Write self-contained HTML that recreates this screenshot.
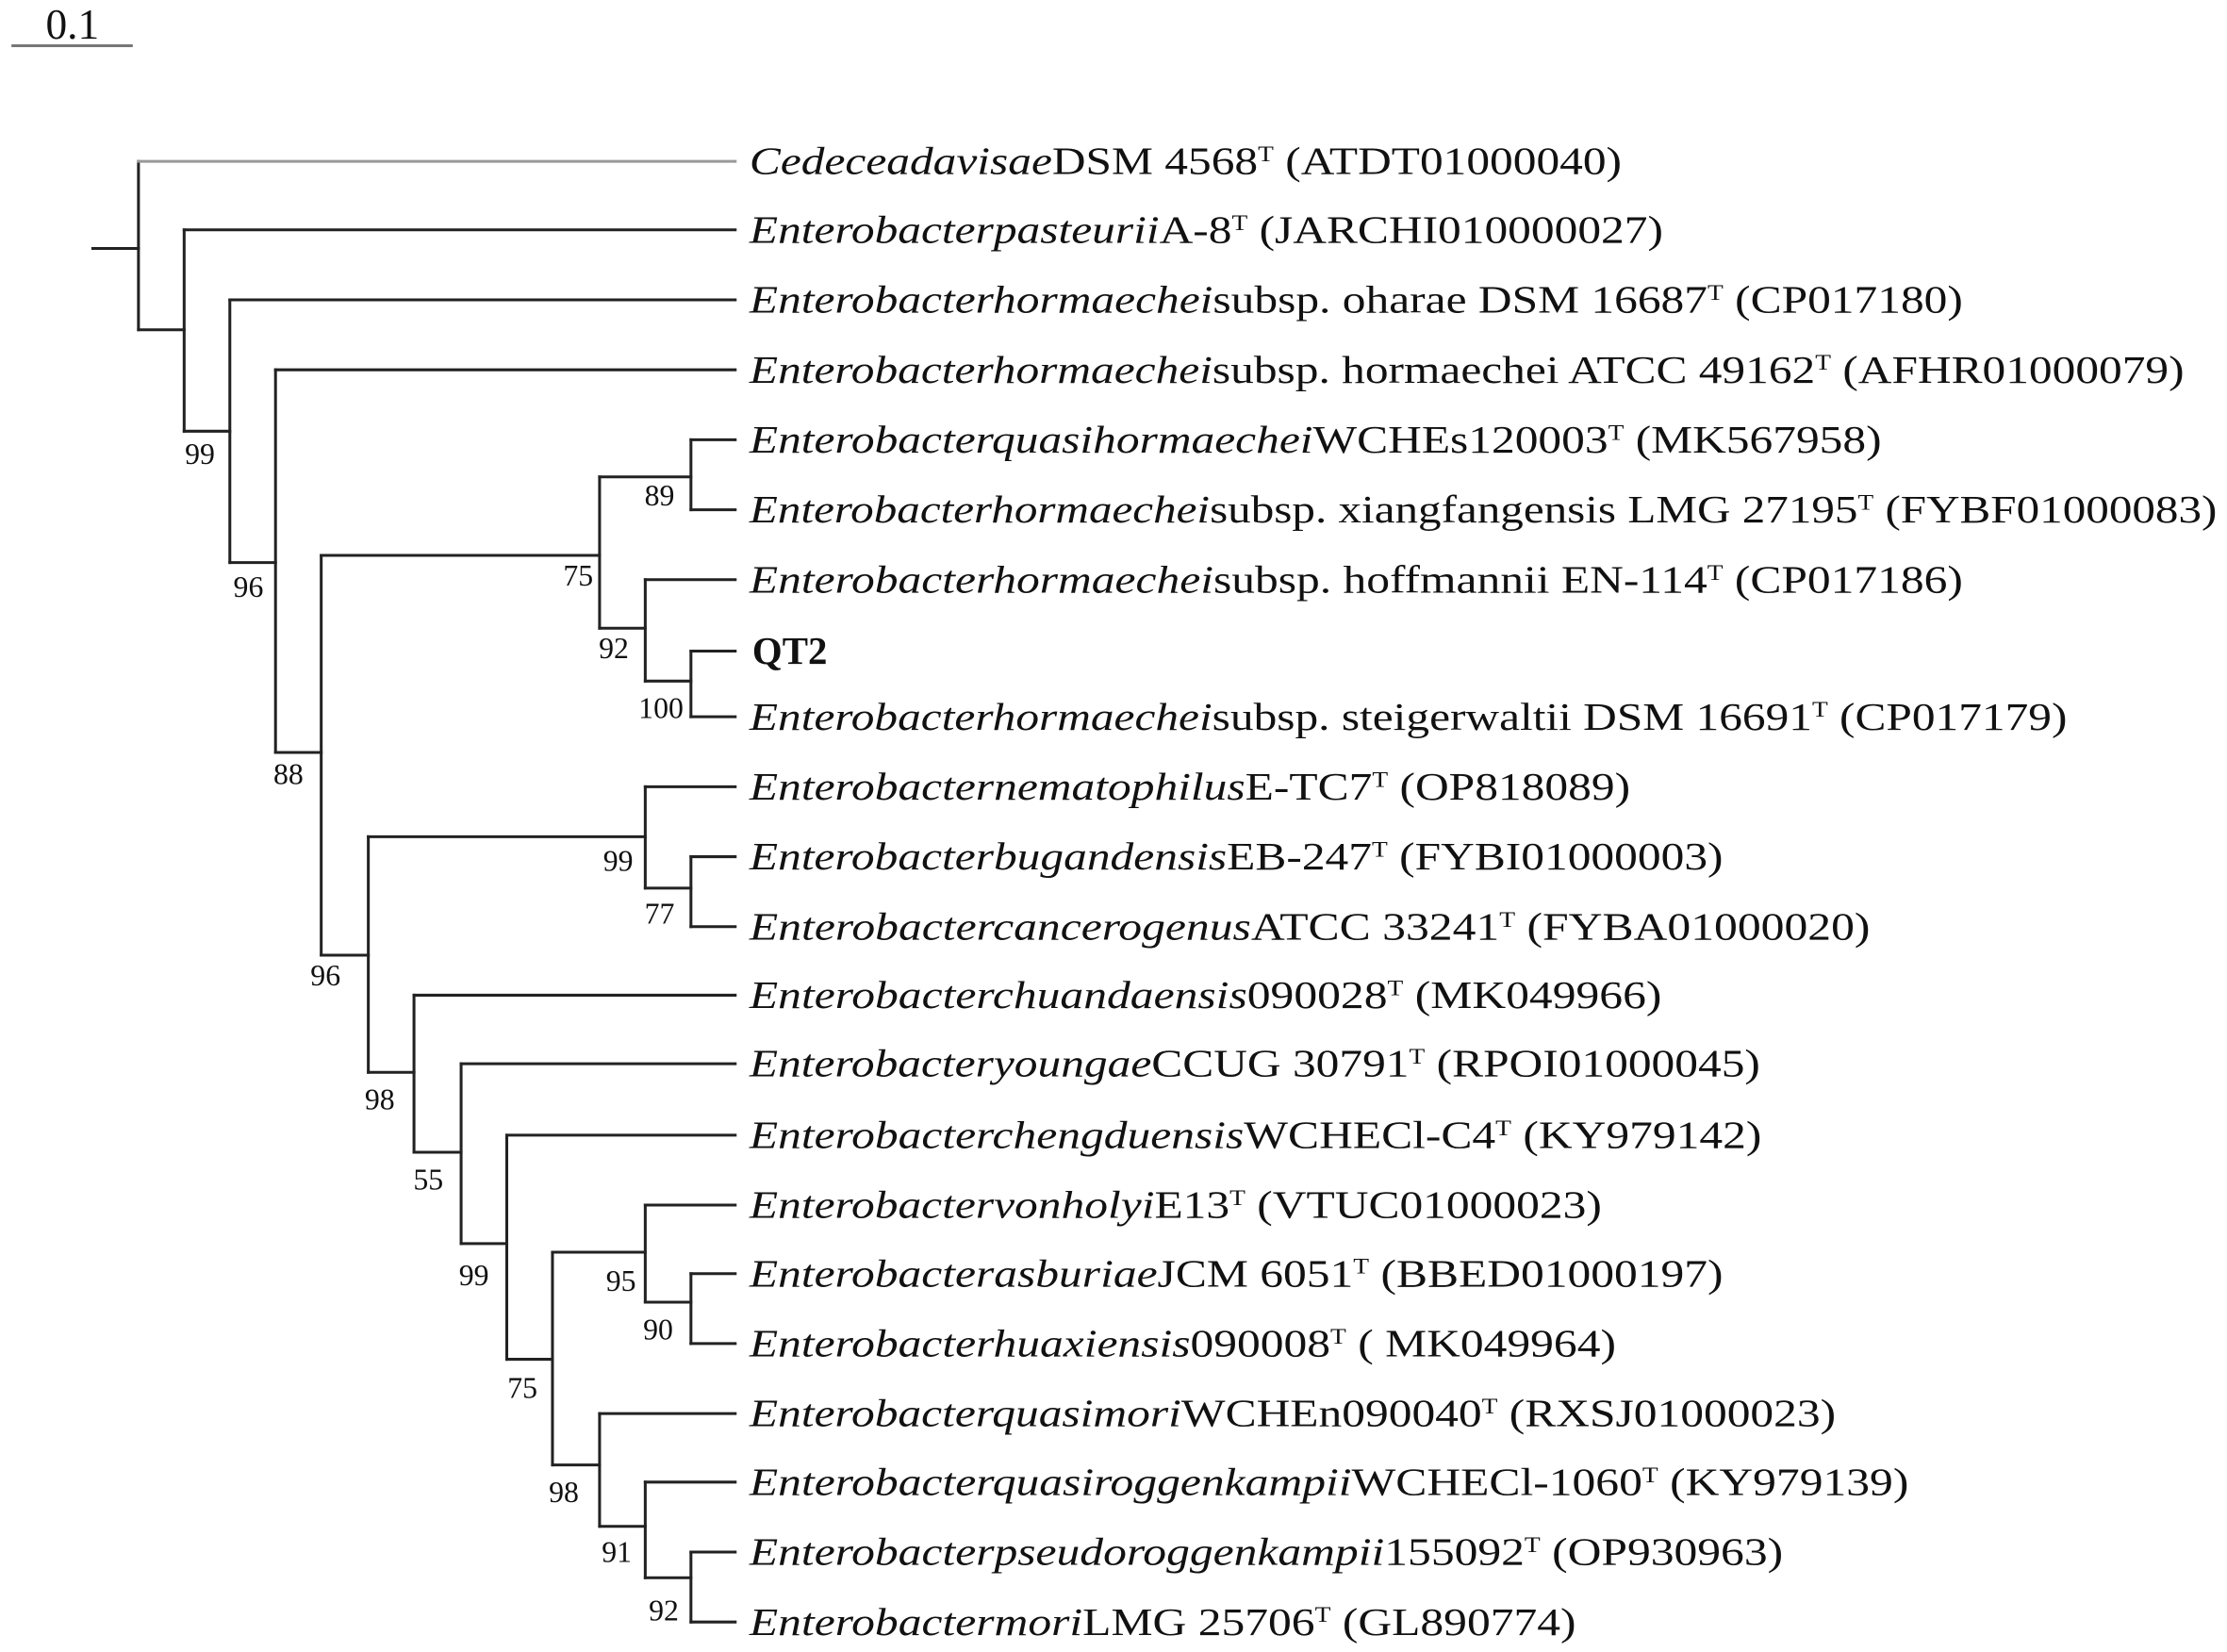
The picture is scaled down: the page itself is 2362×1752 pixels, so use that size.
<!DOCTYPE html>
<html><head><meta charset="utf-8"><style>
html,body{margin:0;padding:0;background:#fff;width:2362px;height:1752px;overflow:hidden}
svg{display:block}
text{font-family:"Liberation Serif",serif;fill:#111}
.l{font-size:27px}
.b{font-size:21px}
.s{font-size:15px}
</style></head><body>
<svg width="2362" height="1752" viewBox="0 0 1560 1157" preserveAspectRatio="none">
<g stroke="#222" stroke-width="2" fill="none" stroke-linecap="square">
<line x1="9" y1="32" x2="92" y2="32" stroke="#777"/>
<line x1="65" y1="174" x2="97" y2="174"/>
<line x1="97" y1="113" x2="97" y2="231"/>
<line x1="97" y1="113" x2="515" y2="113" stroke="#999"/>
<line x1="97" y1="231" x2="129" y2="231"/>
<line x1="129" y1="161" x2="129" y2="302"/>
<line x1="129" y1="161" x2="515" y2="161"/>
<line x1="129" y1="302" x2="161" y2="302"/>
<line x1="161" y1="210" x2="161" y2="394"/>
<line x1="161" y1="210" x2="515" y2="210"/>
<line x1="161" y1="394" x2="193" y2="394"/>
<line x1="193" y1="259" x2="193" y2="527"/>
<line x1="193" y1="259" x2="515" y2="259"/>
<line x1="193" y1="527" x2="225" y2="527"/>
<line x1="225" y1="389" x2="225" y2="669"/>
<line x1="225" y1="389" x2="420" y2="389"/>
<line x1="420" y1="334" x2="420" y2="440"/>
<line x1="420" y1="334" x2="484" y2="334"/>
<line x1="484" y1="308" x2="484" y2="357"/>
<line x1="484" y1="308" x2="515" y2="308"/>
<line x1="484" y1="357" x2="515" y2="357"/>
<line x1="420" y1="440" x2="452" y2="440"/>
<line x1="452" y1="406" x2="452" y2="477"/>
<line x1="452" y1="406" x2="515" y2="406"/>
<line x1="452" y1="477" x2="484" y2="477"/>
<line x1="484" y1="456" x2="484" y2="502"/>
<line x1="484" y1="456" x2="515" y2="456"/>
<line x1="484" y1="502" x2="515" y2="502"/>
<line x1="225" y1="669" x2="258" y2="669"/>
<line x1="258" y1="586" x2="258" y2="751"/>
<line x1="258" y1="586" x2="452" y2="586"/>
<line x1="452" y1="551" x2="452" y2="622"/>
<line x1="452" y1="551" x2="515" y2="551"/>
<line x1="452" y1="622" x2="484" y2="622"/>
<line x1="484" y1="600" x2="484" y2="649"/>
<line x1="484" y1="600" x2="515" y2="600"/>
<line x1="484" y1="649" x2="515" y2="649"/>
<line x1="258" y1="751" x2="290" y2="751"/>
<line x1="290" y1="697" x2="290" y2="807"/>
<line x1="290" y1="697" x2="515" y2="697"/>
<line x1="290" y1="807" x2="323" y2="807"/>
<line x1="323" y1="745" x2="323" y2="871"/>
<line x1="323" y1="745" x2="515" y2="745"/>
<line x1="323" y1="871" x2="355" y2="871"/>
<line x1="355" y1="795" x2="355" y2="952"/>
<line x1="355" y1="795" x2="515" y2="795"/>
<line x1="355" y1="952" x2="387" y2="952"/>
<line x1="387" y1="877" x2="387" y2="1026"/>
<line x1="387" y1="877" x2="452" y2="877"/>
<line x1="452" y1="844" x2="452" y2="912"/>
<line x1="452" y1="844" x2="515" y2="844"/>
<line x1="452" y1="912" x2="484" y2="912"/>
<line x1="484" y1="892" x2="484" y2="941"/>
<line x1="484" y1="892" x2="515" y2="892"/>
<line x1="484" y1="941" x2="515" y2="941"/>
<line x1="387" y1="1026" x2="420" y2="1026"/>
<line x1="420" y1="990" x2="420" y2="1069"/>
<line x1="420" y1="990" x2="515" y2="990"/>
<line x1="420" y1="1069" x2="452" y2="1069"/>
<line x1="452" y1="1038" x2="452" y2="1105"/>
<line x1="452" y1="1038" x2="515" y2="1038"/>
<line x1="452" y1="1105" x2="484" y2="1105"/>
<line x1="484" y1="1087" x2="484" y2="1136"/>
<line x1="484" y1="1087" x2="515" y2="1087"/>
<line x1="484" y1="1136" x2="515" y2="1136"/>
</g>
<text x="32" y="27" style="font-size:30px">0.1</text>
<g class="b" text-anchor="middle">
<text x="140" y="325">99</text><text x="174" y="418">96</text><text x="202" y="549">88</text><text x="228" y="690">96</text>
<text x="405" y="410">75</text><text x="462" y="354">89</text><text x="430" y="461">92</text><text x="463" y="503">100</text>
<text x="433" y="610">99</text><text x="462" y="647">77</text><text x="266" y="777">98</text><text x="300" y="833">55</text>
<text x="332" y="900">99</text><text x="366" y="979">75</text><text x="435" y="904">95</text><text x="461" y="938">90</text>
<text x="395" y="1052">98</text><text x="432" y="1094">91</text><text x="465" y="1135">92</text>
</g>
<g class="l">
<text x="525" y="122" textLength="611" lengthAdjust="spacingAndGlyphs"><tspan font-style="italic">Cedeceadavisae</tspan>DSM 4568<tspan class="s" dy="-9">T</tspan><tspan dy="9"> (ATDT01000040)</tspan></text>
<text x="525" y="170" textLength="640" lengthAdjust="spacingAndGlyphs"><tspan font-style="italic">Enterobacterpasteurii</tspan>A-8<tspan class="s" dy="-9">T</tspan><tspan dy="9"> (JARCHI010000027)</tspan></text>
<text x="525" y="219" textLength="850" lengthAdjust="spacingAndGlyphs"><tspan font-style="italic">Enterobacterhormaechei</tspan>subsp. oharae DSM 16687<tspan class="s" dy="-9">T</tspan><tspan dy="9"> (CP017180)</tspan></text>
<text x="525" y="268" textLength="1005" lengthAdjust="spacingAndGlyphs"><tspan font-style="italic">Enterobacterhormaechei</tspan>subsp. hormaechei ATCC 49162<tspan class="s" dy="-9">T</tspan><tspan dy="9"> (AFHR01000079)</tspan></text>
<text x="525" y="317" textLength="793" lengthAdjust="spacingAndGlyphs"><tspan font-style="italic">Enterobacterquasihormaechei</tspan>WCHEs120003<tspan class="s" dy="-9">T</tspan><tspan dy="9"> (MK567958)</tspan></text>
<text x="525" y="366" textLength="1028" lengthAdjust="spacingAndGlyphs"><tspan font-style="italic">Enterobacterhormaechei</tspan>subsp. xiangfangensis LMG 27195<tspan class="s" dy="-9">T</tspan><tspan dy="9"> (FYBF01000083)</tspan></text>
<text x="525" y="415" textLength="850" lengthAdjust="spacingAndGlyphs"><tspan font-style="italic">Enterobacterhormaechei</tspan>subsp. hoffmannii EN-114<tspan class="s" dy="-9">T</tspan><tspan dy="9"> (CP017186)</tspan></text>
<text x="527" y="465" font-weight="bold">QT2</text>
<text x="525" y="511" textLength="923" lengthAdjust="spacingAndGlyphs"><tspan font-style="italic">Enterobacterhormaechei</tspan>subsp. steigerwaltii DSM 16691<tspan class="s" dy="-9">T</tspan><tspan dy="9"> (CP017179)</tspan></text>
<text x="525" y="560" textLength="617" lengthAdjust="spacingAndGlyphs"><tspan font-style="italic">Enterobacternematophilus</tspan>E-TC7<tspan class="s" dy="-9">T</tspan><tspan dy="9"> (OP818089)</tspan></text>
<text x="525" y="609" textLength="682" lengthAdjust="spacingAndGlyphs"><tspan font-style="italic">Enterobacterbugandensis</tspan>EB-247<tspan class="s" dy="-9">T</tspan><tspan dy="9"> (FYBI01000003)</tspan></text>
<text x="525" y="658" textLength="785" lengthAdjust="spacingAndGlyphs"><tspan font-style="italic">Enterobactercancerogenus</tspan>ATCC 33241<tspan class="s" dy="-9">T</tspan><tspan dy="9"> (FYBA01000020)</tspan></text>
<text x="525" y="706" textLength="639" lengthAdjust="spacingAndGlyphs"><tspan font-style="italic">Enterobacterchuandaensis</tspan>090028<tspan class="s" dy="-9">T</tspan><tspan dy="9"> (MK049966)</tspan></text>
<text x="525" y="754" textLength="708" lengthAdjust="spacingAndGlyphs"><tspan font-style="italic">Enterobacteryoungae</tspan>CCUG 30791<tspan class="s" dy="-9">T</tspan><tspan dy="9"> (RPOI01000045)</tspan></text>
<text x="525" y="804" textLength="709" lengthAdjust="spacingAndGlyphs"><tspan font-style="italic">Enterobacterchengduensis</tspan>WCHECl-C4<tspan class="s" dy="-9">T</tspan><tspan dy="9"> (KY979142)</tspan></text>
<text x="525" y="853" textLength="597" lengthAdjust="spacingAndGlyphs"><tspan font-style="italic">Enterobactervonholyi</tspan>E13<tspan class="s" dy="-9">T</tspan><tspan dy="9"> (VTUC01000023)</tspan></text>
<text x="525" y="901" textLength="682" lengthAdjust="spacingAndGlyphs"><tspan font-style="italic">Enterobacterasburiae</tspan>JCM 6051<tspan class="s" dy="-9">T</tspan><tspan dy="9"> (BBED01000197)</tspan></text>
<text x="525" y="950" textLength="607" lengthAdjust="spacingAndGlyphs"><tspan font-style="italic">Enterobacterhuaxiensis</tspan>090008<tspan class="s" dy="-9">T</tspan><tspan dy="9"> ( MK049964)</tspan></text>
<text x="525" y="999" textLength="761" lengthAdjust="spacingAndGlyphs"><tspan font-style="italic">Enterobacterquasimori</tspan>WCHEn090040<tspan class="s" dy="-9">T</tspan><tspan dy="9"> (RXSJ01000023)</tspan></text>
<text x="525" y="1047" textLength="812" lengthAdjust="spacingAndGlyphs"><tspan font-style="italic">Enterobacterquasiroggenkampii</tspan>WCHECl-1060<tspan class="s" dy="-9">T</tspan><tspan dy="9"> (KY979139)</tspan></text>
<text x="525" y="1096" textLength="724" lengthAdjust="spacingAndGlyphs"><tspan font-style="italic">Enterobacterpseudoroggenkampii</tspan>155092<tspan class="s" dy="-9">T</tspan><tspan dy="9"> (OP930963)</tspan></text>
<text x="525" y="1145" textLength="579" lengthAdjust="spacingAndGlyphs"><tspan font-style="italic">Enterobactermori</tspan>LMG 25706<tspan class="s" dy="-9">T</tspan><tspan dy="9"> (GL890774)</tspan></text>
</g>
</svg>
</body></html>
